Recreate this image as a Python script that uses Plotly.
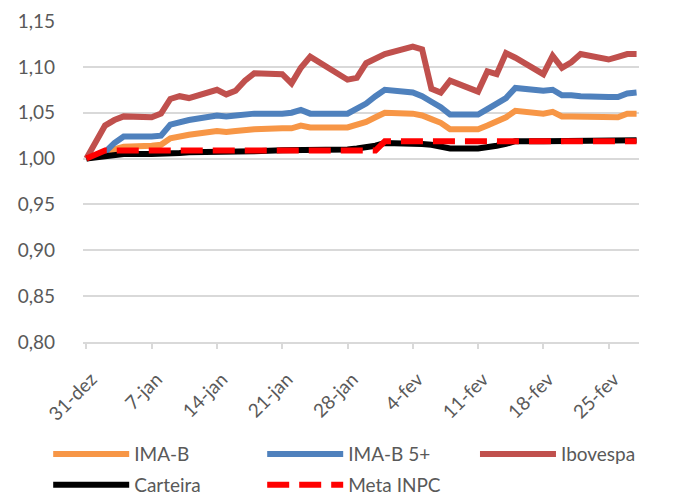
import plotly.graph_objects as go

dates = ["2018-12-31", "2019-01-02", "2019-01-03", "2019-01-04", "2019-01-07", "2019-01-08",
         "2019-01-09", "2019-01-10", "2019-01-11", "2019-01-14", "2019-01-15", "2019-01-16",
         "2019-01-17", "2019-01-18", "2019-01-21", "2019-01-22", "2019-01-23", "2019-01-24",
         "2019-01-28", "2019-01-29", "2019-01-30", "2019-01-31", "2019-02-01", "2019-02-04",
         "2019-02-05", "2019-02-06", "2019-02-07", "2019-02-08", "2019-02-11", "2019-02-12",
         "2019-02-13", "2019-02-14", "2019-02-15", "2019-02-18", "2019-02-19", "2019-02-20",
         "2019-02-21", "2019-02-22", "2019-02-25", "2019-02-26", "2019-02-27", "2019-02-28"]

ima_b = [1.000, 1.005, 1.010, 1.013, 1.014, 1.015, 1.022, 1.024, 1.026, 1.030, 1.029, 1.030,
         1.031, 1.032, 1.033, 1.033, 1.036, 1.034, 1.034, 1.037, 1.040, 1.045, 1.050, 1.049,
         1.047, 1.043, 1.039, 1.032, 1.032, 1.036, 1.040, 1.045, 1.052, 1.049, 1.051, 1.046,
         1.046, 1.046, 1.045, 1.045, 1.049, 1.049]

ima_b5 = [1.000, 1.007, 1.017, 1.024, 1.024, 1.025, 1.037, 1.040, 1.042, 1.047, 1.046, 1.047,
          1.048, 1.049, 1.049, 1.050, 1.053, 1.049, 1.049, 1.055, 1.060, 1.068, 1.075, 1.072,
          1.068, 1.062, 1.056, 1.048, 1.048, 1.054, 1.060, 1.066, 1.077, 1.074, 1.075, 1.069,
          1.069, 1.068, 1.067, 1.067, 1.071, 1.072]

ibovespa = [1.000, 1.036, 1.042, 1.046, 1.045, 1.049, 1.065, 1.068, 1.066, 1.075, 1.070, 1.074,
            1.085, 1.093, 1.092, 1.082, 1.099, 1.111, 1.086, 1.088, 1.104, 1.109, 1.114, 1.122,
            1.119, 1.076, 1.072, 1.085, 1.073, 1.095, 1.092, 1.115, 1.110, 1.092, 1.112, 1.099,
            1.105, 1.114, 1.108, 1.111, 1.114, 1.114]

carteira = [1.000, 1.003, 1.004, 1.005, 1.005, 1.005, 1.006, 1.006, 1.007, 1.007, 1.007, 1.008,
            1.008, 1.008, 1.009, 1.009, 1.010, 1.010, 1.010, 1.011, 1.012, 1.014, 1.017, 1.017,
            1.016, 1.015, 1.013, 1.011, 1.011, 1.012, 1.014, 1.016, 1.019, 1.019, 1.019, 1.019,
            1.019, 1.019, 1.019, 1.019, 1.020, 1.020]

meta_inpc = [1.000, 1.0087, 1.0087, 1.0087, 1.0087, 1.0087, 1.0087, 1.0087, 1.0087, 1.0087,
             1.0087, 1.0087, 1.0087, 1.0087, 1.0087, 1.0087, 1.0087, 1.0087, 1.0087, 1.0087,
             1.0087, 1.0087, 1.0188, 1.0188, 1.0188, 1.0188, 1.0188, 1.0188, 1.0188, 1.0188,
             1.0188, 1.0188, 1.0188, 1.0188, 1.0188, 1.0188, 1.0188, 1.0188, 1.0188, 1.0188,
             1.0188, 1.0188]

tick_dates = ["2018-12-31", "2019-01-07", "2019-01-14", "2019-01-21", "2019-01-28",
              "2019-02-04", "2019-02-11", "2019-02-18", "2019-02-25"]
tick_labels = ["31-dez", "7-jan", "14-jan", "21-jan", "28-jan", "4-fev", "11-fev", "18-fev", "25-fev"]

y_ticks = [0.80, 0.85, 0.90, 0.95, 1.00, 1.05, 1.10, 1.15]

FONT = "Lato"
GRAY = "#595959"
GRID = "#D9D9D9"

fig = go.Figure()
series = [
    ("IMA-B", ima_b, "#F79646", "solid", "legend"),
    ("IMA-B 5+", ima_b5, "#4F81BD", "solid", "legend"),
    ("Ibovespa", ibovespa, "#C0504D", "solid", "legend3"),
    ("Carteira", carteira, "#000000", "solid", "legend2"),
    ("Meta INPC", meta_inpc, "#FF0000", "22px,10px", "legend2"),
]
for name, vals, color, dash, leg in series:
    fig.add_trace(go.Scatter(
        x=dates, y=vals, name=name, mode="lines", legend=leg,
        line=dict(color=color, width=6, dash=dash),
    ))

leg_common = dict(
    orientation="h", xanchor="left", yanchor="middle",
    entrywidth=123, entrywidthmode="pixels", itemwidth=76,
    font=dict(family=FONT, size=19, color=GRAY),
    traceorder="normal", bgcolor="rgba(0,0,0,0)",
)

# page body has an 8px default margin, so the figure is drawn 8px smaller
fig.update_layout(
    width=679, height=488,
    margin=dict(l=75, r=48, t=13, b=154, autoexpand=False),
    paper_bgcolor="white", plot_bgcolor="white",
    separators=",.",
    font=dict(family=FONT, size=19, color=GRAY),
    showlegend=True,
    legend=dict(leg_common, x=-0.0626, y=-0.349),
    legend3=dict(leg_common, x=0.705, y=-0.349),
    legend2=dict(leg_common, x=-0.0626, y=-0.4455),
)
fig.update_xaxes(
    type="date",
    range=["2018-12-30 15:15", "2019-02-28 06:15"],
    tickvals=tick_dates, ticktext=tick_labels, tickangle=-45,
    showgrid=False, showline=True, linecolor=GRID, linewidth=1.5,
    ticks="outside", ticklen=5, tickcolor=GRID, tickwidth=1.5,
    ticklabelstandoff=12, ticklabelshift=5,
    tickfont=dict(family=FONT, size=19, color=GRAY),
    zeroline=False,
)
fig.update_yaxes(
    range=[0.80, 1.15], tickvals=y_ticks, tickformat=".2f",
    showgrid=True, gridcolor=GRID, gridwidth=1.5,
    showline=False, zeroline=False, ticks="",
    ticklabelstandoff=27,
    tickfont=dict(family=FONT, size=19, color=GRAY),
)

fig.write_html("out.html")
